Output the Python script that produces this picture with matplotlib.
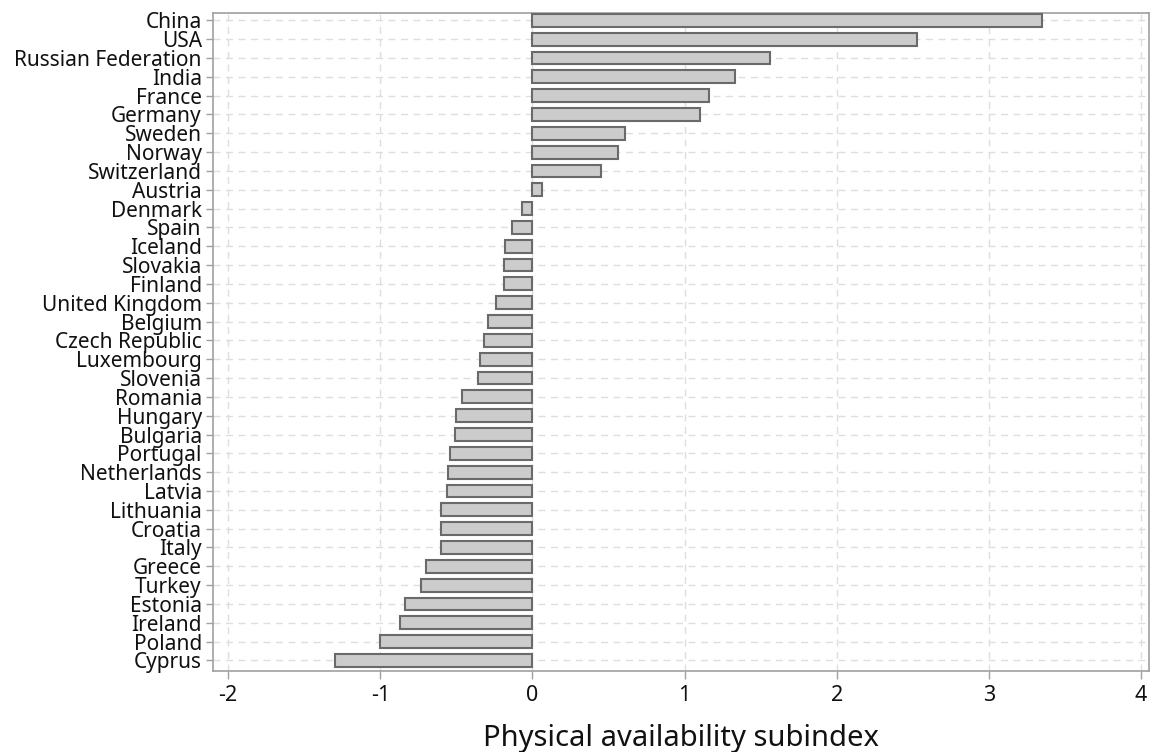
import numpy as np
import matplotlib
matplotlib.use('Agg')
import matplotlib.pyplot as plt

plt.rcParams['font.family'] = ['Noto Sans', 'DejaVu Sans']

countries = ['China', 'USA', 'Russian Federation', 'India', 'France', 'Germany',
             'Sweden', 'Norway', 'Switzerland', 'Austria', 'Denmark', 'Spain',
             'Iceland', 'Slovakia', 'Finland', 'United Kingdom', 'Belgium',
             'Czech Republic', 'Luxembourg', 'Slovenia', 'Romania', 'Hungary',
             'Bulgaria', 'Portugal', 'Netherlands', 'Latvia', 'Lithuania',
             'Croatia', 'Italy', 'Greece', 'Turkey', 'Estonia', 'Ireland',
             'Poland', 'Cyprus']
subindex = [3.35, 2.53, 1.56, 1.33, 1.16, 1.10,
            0.61, 0.56, 0.45, 0.065, -0.07, -0.135,
            -0.18, -0.19, -0.19, -0.24, -0.29,
            -0.32, -0.345, -0.36, -0.46, -0.50,
            -0.51, -0.545, -0.555, -0.56, -0.60,
            -0.60, -0.60, -0.70, -0.73, -0.835, -0.87,
            -1.00, -1.30]
xticks = [-2, -1, 0, 1, 2, 3, 4]

fig = plt.figure(figsize=(11.51, 7.52), dpi=100)
ax = fig.add_axes([0.185, 0.108, 0.813, 0.875])

pos = np.arange(len(countries))
ax.barh(pos, subindex, height=0.68, color='#cccccc', edgecolor='#6a6a6a',
        linewidth=1.5, zorder=3)

ax.set_ylim(len(countries) - 0.45, -0.4)
ax.set_xlim(-2.1, 4.05)
ax.set_yticks(pos)
ax.set_yticklabels(countries, fontsize=15, color='#111111')
ax.set_xticks(xticks)
ax.set_xticklabels([str(t) for t in xticks], fontsize=15.5, color='#111111')

ax.grid(True, color='#dedede', linestyle=(0, (5, 4)), linewidth=1.0, zorder=0)
for sp in ax.spines.values():
    sp.set_color('#a0a0a0')
    sp.set_linewidth(1.2)
ax.tick_params(axis='y', length=5, width=1, color='#a0a0a0', pad=3)
ax.tick_params(axis='x', length=6, width=1, color='#a0a0a0', pad=4)

ax.set_xlabel('Physical availability subindex', fontsize=21, color='#111111', labelpad=13)

plt.savefig('out.png', dpi=100)
